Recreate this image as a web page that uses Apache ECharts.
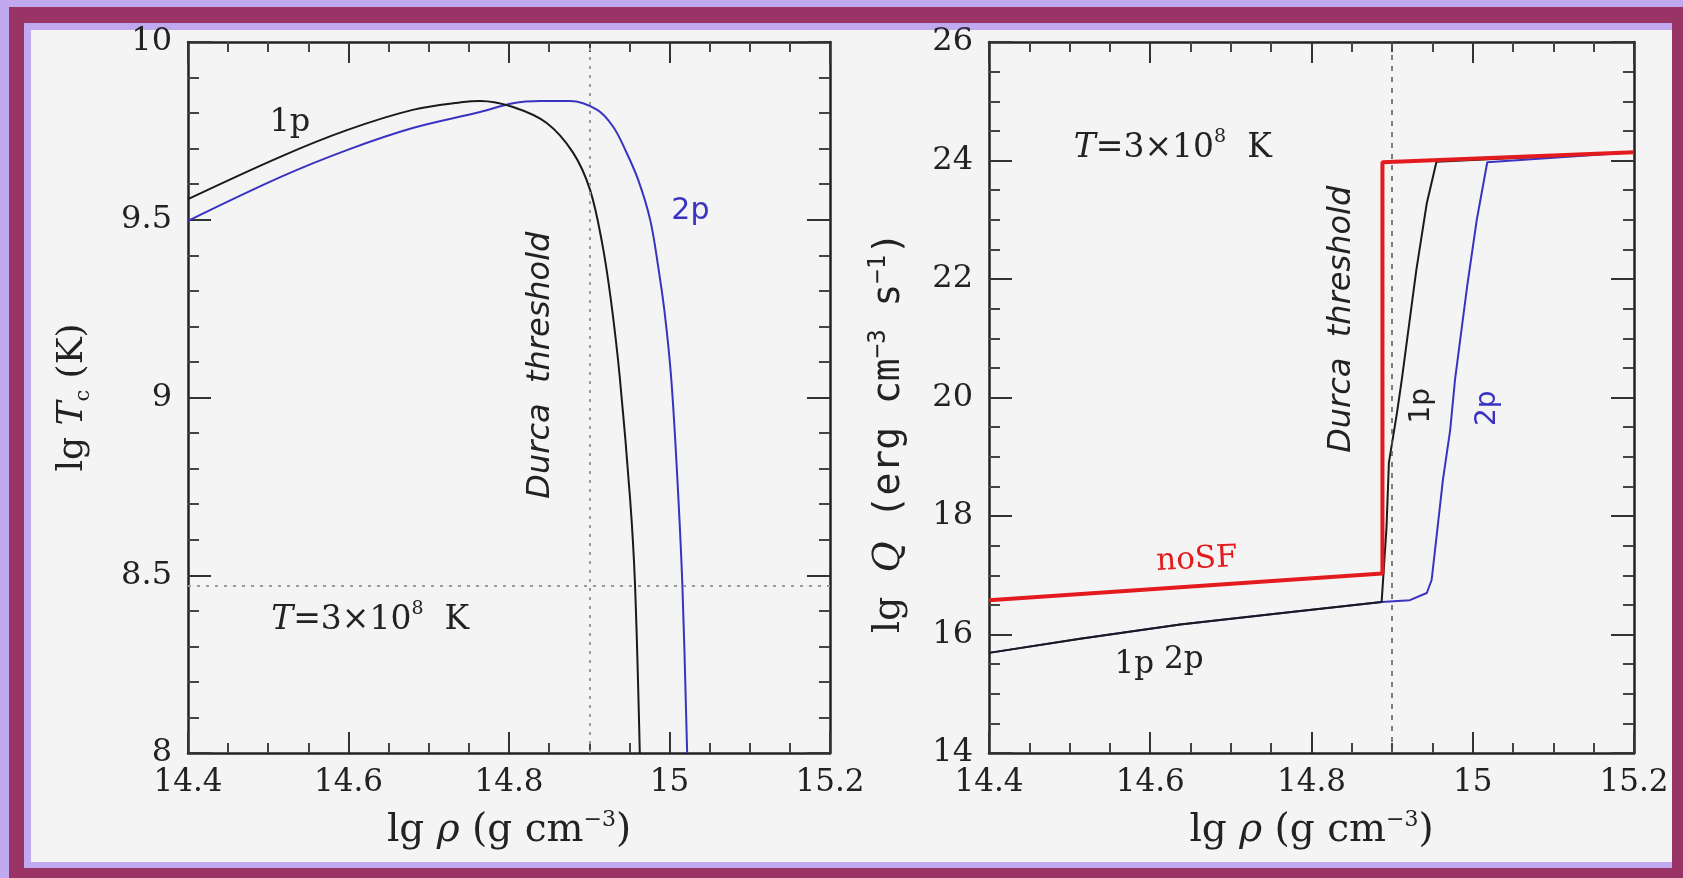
<!DOCTYPE html>
<html>
<head>
<meta charset="utf-8">
<script src="https://cdn.jsdelivr.net/npm/echarts@6.0.0/dist/echarts.min.js"></script>
<style>
html, body { margin: 0; padding: 0; width: 1683px; height: 878px; overflow: hidden; background: #9a3366; position: relative; }
.band { position: absolute; background: #c1a9ef; }
.panel { position: absolute; left: 31px; top: 30px; width: 1641px; height: 832px; background: #f4f4f4; }
#main { position: absolute; left: 0; top: 0; width: 1683px; height: 878px; }
</style>
</head>
<body>
<div class="band" style="left:0;top:0;width:1683px;height:7px"></div>
<div class="band" style="left:0;top:0;width:9px;height:878px"></div>
<div class="band" style="left:24px;top:23px;width:1648px;height:845px"></div>
<div class="panel"></div>
<div id="main"></div>
<script>
// tick labels
const rhoTicks = ['14.4', '14.6', '14.8', '15', '15.2']
const tcTicks = ['8', '8.5', '9', '9.5', '10']
const qTicks = ['14', '16', '18', '20', '22', '24', '26']

// threshold and temperature lines
const durcaRho = 14.898
const lgT = 8.475

// left panel: lg Tc vs lg rho
const rhoTc1p = [14.4, 14.515, 14.598, 14.68, 14.743, 14.764, 14.805, 14.847, 14.88, 14.901, 14.916, 14.927, 14.938, 14.951, 14.957, 14.963]
const tc1p = [9.558, 9.677, 9.752, 9.809, 9.831, 9.834, 9.817, 9.772, 9.688, 9.584, 9.435, 9.274, 9.058, 8.712, 8.475, 8.0]
const rhoTc2p = [14.4, 14.515, 14.598, 14.68, 14.764, 14.805, 14.839, 14.876, 14.91, 14.93, 14.945, 14.961, 14.976, 14.986, 14.994, 15.002, 15.009, 15.016, 15.022]
const tc2p = [9.497, 9.62, 9.696, 9.758, 9.803, 9.828, 9.834, 9.834, 9.809, 9.761, 9.696, 9.612, 9.499, 9.367, 9.238, 9.058, 8.805, 8.475, 8.0]

// right panel: lg Q vs lg rho
const rhoNoSF = [14.4, 14.888, 14.888, 15.2]
const qNoSF = [16.58, 17.03, 23.97, 24.14]
const rhoQ1p = [14.4, 14.513, 14.637, 14.761, 14.887, 14.889, 14.893, 14.896, 14.906, 14.912, 14.93, 14.943, 14.955, 15.2]
const q1p = [15.69, 15.93, 16.17, 16.36, 16.55, 16.58, 17.8, 18.9, 19.74, 20.3, 22.15, 23.28, 23.98, 24.14]
const rhoQ2p = [14.4, 14.513, 14.637, 14.761, 14.887, 14.922, 14.943, 14.949, 14.956, 14.963, 14.972, 14.978, 14.993, 15.005, 15.018, 15.2]
const q2p = [15.69, 15.93, 16.17, 16.36, 16.55, 16.58, 16.7, 16.92, 17.76, 18.61, 19.45, 20.3, 21.87, 23.0, 23.97, 24.14]

const pair = (xs, ys) => xs.map((x, i) => [x, ys[i]])

const SERIF = "'DejaVu Serif', serif"
const SANS = "'DejaVu Sans', sans-serif"
const MONO = "'DejaVu Sans Mono', monospace"
const BLACK = '#1a1a1a'
const BLUE = '#3a33c2'
const RED = '#e31b1f'

const chart = echarts.init(document.getElementById('main'))

function xAxis(grid, pos) {
    const bottom = pos === 'bottom'
    return {
        type: 'value', gridIndex: grid, position: pos,
        min: 14.4, max: 15.2, interval: 0.2,
        axisLine: { show: true, onZero: false, lineStyle: { color: '#222', width: 2.5 } },
        axisTick: { show: true, inside: true, length: 21, lineStyle: { color: '#333', width: 2 } },
        minorTick: { show: true, splitNumber: 4, length: 10, lineStyle: { color: '#444', width: 2 } },
        splitLine: { show: false },
        axisLabel: {
            show: bottom, margin: 14,
            fontFamily: SERIF, fontSize: 31, color: '#222',
            formatter: (v, i) => rhoTicks[i]
        },
        name: bottom ? '{a|lg }{i|ρ}{a| (g cm}{s|−3}{a|)}' : '',
        nameLocation: 'middle', nameGap: 56,
        nameTextStyle: {
            rich: {
                a: { fontFamily: SERIF, fontSize: 39, lineHeight: 44, color: '#222' },
                i: { fontFamily: SERIF, fontSize: 39, lineHeight: 44, fontStyle: 'italic', color: '#222' },
                s: { fontFamily: SERIF, fontSize: 22, lineHeight: 22, verticalAlign: 'top', color: '#222' }
            }
        }
    }
}

function yAxis(grid, pos, min, max, interval, minors, ticks, name, gap, rich) {
    const left = pos === 'left'
    return {
        type: 'value', gridIndex: grid, position: pos,
        min: min, max: max, interval: interval,
        axisLine: { show: true, onZero: false, lineStyle: { color: '#222', width: 2.5 } },
        axisTick: { show: true, inside: true, length: 23, lineStyle: { color: '#333', width: 2 } },
        minorTick: { show: true, splitNumber: minors, length: 11, lineStyle: { color: '#444', width: 2 } },
        splitLine: { show: false },
        axisLabel: {
            show: left, margin: 16,
            fontFamily: SERIF, fontSize: 32, color: '#222',
            formatter: (v, i) => ticks[i]
        },
        name: left ? name : '',
        nameLocation: 'middle', nameGap: gap, nameRotate: 90,
        nameTextStyle: { rich: rich }
    }
}

const tcRich = {
    a: { fontFamily: SERIF, fontSize: 36, lineHeight: 42, color: '#222' },
    i: { fontFamily: SERIF, fontSize: 36, lineHeight: 42, fontStyle: 'italic', color: '#222' },
    sub: { fontFamily: SERIF, fontSize: 21, lineHeight: 21, verticalAlign: 'bottom', color: '#222' }
}
const qRich = {
    a: { fontFamily: SERIF, fontSize: 38, lineHeight: 44, color: '#222' },
    i: { fontFamily: SERIF, fontSize: 38, lineHeight: 44, fontStyle: 'italic', color: '#222' },
    b: { fontFamily: MONO, fontSize: 38, lineHeight: 44, color: '#222' },
    s: { fontFamily: MONO, fontSize: 24, lineHeight: 24, verticalAlign: 'top', color: '#222' },
    p: { fontSize: 10, width: 70 }
}

const option = {
    backgroundColor: 'transparent',
    animation: false,
    grid: [
        { left: 188, top: 42, width: 642, height: 711, outerBoundsMode: 'none' },
        { left: 989, top: 42, width: 645, height: 711, outerBoundsMode: 'none' }
    ],
    xAxis: [xAxis(0, 'bottom'), xAxis(0, 'top'), xAxis(1, 'bottom'), xAxis(1, 'top')],
    yAxis: [
        yAxis(0, 'left', 8, 10, 0.5, 5, tcTicks, '{a|lg }{i|T}{sub|c}{a| (K)}', 94, tcRich),
        yAxis(0, 'right', 8, 10, 0.5, 5, tcTicks, '', 0, {}),
        yAxis(1, 'left', 14, 26, 2, 4, qTicks, '{a|lg  }{i|Q}{b| (erg cm}{s|−3}{b| s}{s|−1}{b|)}{p| }', 78, qRich),
        yAxis(1, 'right', 14, 26, 2, 4, qTicks, '', 0, {})
    ],
    series: [
        {
            name: '2p', type: 'line', xAxisIndex: 0, yAxisIndex: 0,
            data: pair(rhoTc2p, tc2p), showSymbol: false, smooth: 0.35,
            lineStyle: { color: BLUE, width: 2 }
        },
        {
            name: '1p', type: 'line', xAxisIndex: 0, yAxisIndex: 0,
            data: pair(rhoTc1p, tc1p), showSymbol: false, smooth: 0.35,
            lineStyle: { color: BLACK, width: 2 },
            markLine: {
                silent: true, symbol: 'none', label: { show: false },
                lineStyle: { type: [3, 6], color: '#9a9a9a', width: 2 },
                data: [{ xAxis: durcaRho }, { yAxis: lgT }]
            }
        },
        {
            name: '2p Q', type: 'line', xAxisIndex: 2, yAxisIndex: 2,
            data: pair(rhoQ2p, q2p), showSymbol: false,
            lineStyle: { color: BLUE, width: 2 },
            markLine: {
                silent: true, symbol: 'none', label: { show: false },
                lineStyle: { type: [5, 6], color: '#555', width: 1.5 },
                data: [{ xAxis: durcaRho }]
            }
        },
        {
            name: '1p Q', type: 'line', xAxisIndex: 2, yAxisIndex: 2,
            data: pair(rhoQ1p, q1p), showSymbol: false,
            lineStyle: { color: BLACK, width: 2 }
        },
        {
            name: 'noSF', type: 'line', xAxisIndex: 2, yAxisIndex: 2,
            data: pair(rhoNoSF, qNoSF), showSymbol: false,
            lineStyle: { color: RED, width: 4 }
        }
    ]
}
chart.setOption(option)

// annotations placed at data coordinates
const tRich = {
    i: { fontFamily: SERIF, fontSize: 33, fontStyle: 'italic', lineHeight: 40, fill: '#222' },
    a: { fontFamily: SERIF, fontSize: 33, lineHeight: 40, fill: '#222' },
    s: { fontFamily: SERIF, fontSize: 19, lineHeight: 19, verticalAlign: 'top', fill: '#222' }
}
function note(grid, at, text, opts) {
    const p = chart.convertToPixel({ gridIndex: grid }, at)
    return {
        type: 'text', x: p[0], y: p[1], rotation: opts.rotate || 0, z: 100,
        style: Object.assign({
            text: text, align: 'center', verticalAlign: 'middle',
            fontFamily: SERIF, fontSize: 32, fill: '#222'
        }, opts.style || {})
    }
}
const durcaStyle = { fontFamily: SANS, fontStyle: 'italic', fontSize: 32, fill: '#222' }
chart.setOption({
    graphic: [
        note(0, [14.527, 9.772], '1p', {}),
        note(0, [15.026, 9.525], '2p', { style: { fontFamily: SANS, fontSize: 30, fill: BLUE } }),
        note(0, [14.839, 9.091], 'Durca  threshold', { rotate: Math.PI / 2, style: durcaStyle }),
        note(0, [14.627, 8.374], '{i|T}{a|=3×10}{s|8}{a|  K}', { style: { rich: tRich } }),
        note(1, [14.628, 24.21], '{i|T}{a|=3×10}{s|8}{a|  K}', { style: { rich: tRich } }),
        note(1, [14.838, 21.32], 'Durca  threshold', { rotate: Math.PI / 2, style: durcaStyle }),
        note(1, [14.937, 19.86], '1p', { rotate: Math.PI / 2, style: { fontFamily: SANS, fontSize: 28 } }),
        note(1, [15.018, 19.82], '2p', { rotate: Math.PI / 2, style: { fontFamily: SANS, fontSize: 28, fill: BLUE } }),
        note(1, [14.658, 17.26], 'noSF', { rotate: 0.05, style: { fill: RED, fontSize: 31 } }),
        note(1, [14.611, 15.49], '{a|1p }{s|2p}', {
            style: {
                rich: {
                    a: { fontFamily: SERIF, fontSize: 31, lineHeight: 40, fill: '#222' },
                    s: { fontFamily: SERIF, fontSize: 31, lineHeight: 36, verticalAlign: 'top', fill: '#222' }
                }
            }
        })
    ]
})
</script>
</body>
</html>
